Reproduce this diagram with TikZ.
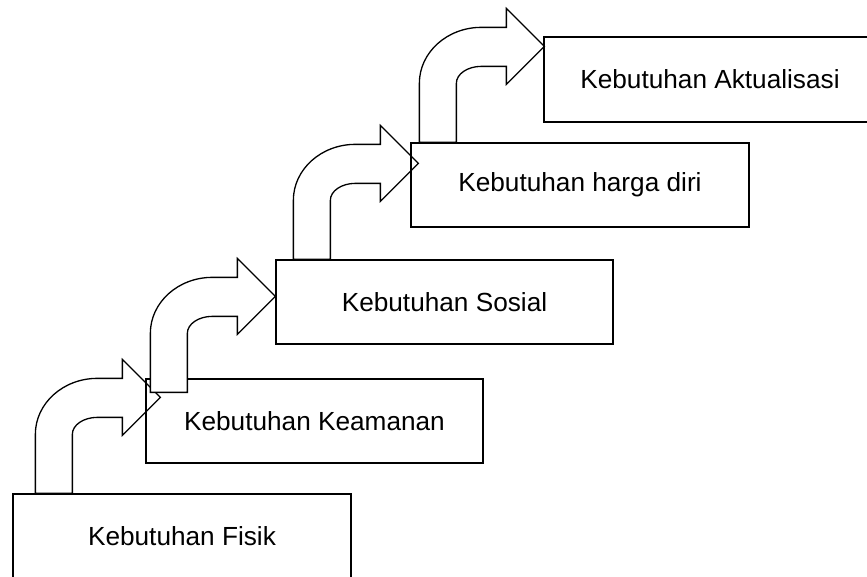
\documentclass[tikz,border=0pt]{standalone}
\usepackage{fontspec}
\setmainfont{Liberation Sans}
\usetikzlibrary{calc}

% curved block arrow, starting at the bottom left corner of its shaft
\newcommand{\bentarrow}[1]{%
  \draw[bentarr] (#1) -- ++(0,-59)
    arc[start angle=180, end angle=270, x radius=62, y radius=56]
    -- ++(25,0) -- ++(0,-19) -- ++(38,38) -- ++(-38,38) -- ++(0,-18) -- ++(-25,0)
    arc[start angle=270, end angle=180, x radius=25, y radius=17]
    -- ++(0,59) -- cycle;}

\begin{document}
\begin{tikzpicture}[x=1pt, y=-1pt,
    needbox/.style={draw, line width=1.3pt, inner sep=0pt, minimum width=337pt,
      minimum height=84pt, font=\fontsize{26.2}{31}\selectfont},
    bentarr/.style={draw, fill=white, line width=1.3pt, line join=miter}]
    \useasboundingbox (0,0) rectangle (867,576);

    \node[needbox, minimum width=338pt] (fisik) at (182,536) {Kebutuhan Fisik};
    \coordinate (a1) at ($(fisik.north west)+(23,0)$);
    \bentarrow{a1}

    \node[needbox] (keamanan) at (314.5,421) {Kebutuhan Keamanan};
    \coordinate (a2) at ($(keamanan.north west)+(5,14)$);
    \bentarrow{a2}

    \node[needbox] (sosial) at (444.5,302) {Kebutuhan Sosial};
    \coordinate (a3) at ($(sosial.north west)+(18,0)$);
    \bentarrow{a3}

    \node[needbox, minimum width=338pt] (harga) at (580,185) {Kebutuhan harga diri};
    \coordinate (a4) at ($(harga.north west)+(9,0)$);
    \bentarrow{a4}

    \node[needbox, minimum width=332pt, minimum height=85pt] (aktual) at (710,79.5) {Kebutuhan Aktualisasi};
\end{tikzpicture}
\end{document}
